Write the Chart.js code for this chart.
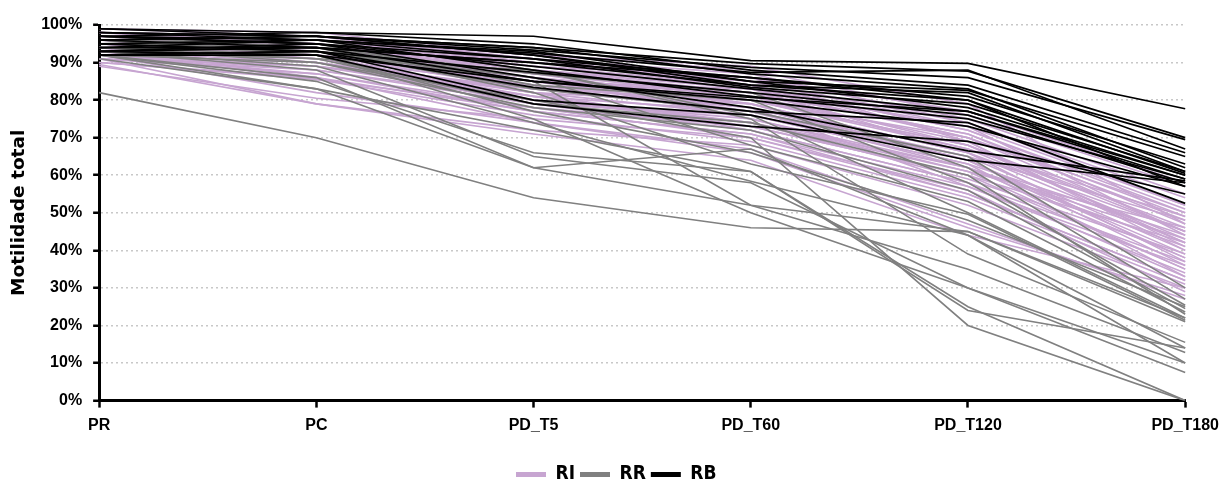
<!DOCTYPE html>
<html lang="pt">

<head>
    <meta charset="UTF-8">
    <title>Motilidade total</title>
    <script src="https://cdn.jsdelivr.net/npm/chart.js"></script>
    <style>
        body { margin: 0; background: #fff; }
        #caixa { width: 1227px; height: 482px; }
    </style>
</head>

<body>
    <div id="caixa">
        <canvas id="grafico"></canvas>
    </div>

<script>
    // categorias do eixo x
    var categorias = ['PR', 'PC', 'PD_T5', 'PD_T60', 'PD_T120', 'PD_T180'];

    // marcas do eixo y (%)
    var ticksY = [0, 10, 20, 30, 40, 50, 60, 70, 80, 90, 100];

    // RI - uma linha por amostra: PR, PC, PD_T5, PD_T60, PD_T120, PD_T180
    var linhasRI = [
        [97, 96, 90, 86, 75, 55],
        [96, 95, 89, 84, 72, 50],
        [95, 94, 88, 83, 70, 48],
        [98, 97, 91, 87, 74, 52],
        [94, 93, 86, 80, 68, 45],
        [93, 92, 85, 79, 66, 42],
        [92, 90, 83, 77, 65, 40],
        [91, 88, 80, 75, 62, 38],
        [90, 85.5, 78, 73, 60, 35],
        [89, 80.5, 75, 70, 55, 32],
        [91, 79, 72, 68, 52, 30],
        [92, 82, 74, 66, 46, 28],
        [96, 93, 87, 82, 71, 47],
        [97, 95, 90, 85, 73, 44],
        [95, 92, 84, 78, 64, 36],
        [94, 91, 82, 76, 63, 33],
        [93, 89, 81, 74, 61, 46],
        [98, 96, 92, 88, 76, 57],
        [99, 97, 91, 86, 69, 41],
        [96, 94, 86, 81, 67, 49],
        [95, 90, 79, 72, 58, 37],
        [94, 86, 77, 71, 57, 34],
        [93, 85.5, 76, 69, 54, 31],
        [97, 95, 88, 84, 72, 51],
        [98, 94, 85, 77, 62, 43],
        [92, 89, 80, 74, 59, 39],
        [91, 87, 78, 70, 56, 29],
        [96, 92, 83, 80, 70, 50],
        [95, 93, 85, 82, 68, 46],
        [97, 96, 89, 83, 66, 45],
        [94, 90, 81, 73, 60, 42],
        [93, 91, 84, 78, 65, 48],
        [92, 88, 79, 76, 63, 44],
        [98, 97, 90, 85, 74, 54],
        [96, 95, 87, 81, 69, 40],
        [95, 91, 82, 79, 64, 38],
        [94, 92, 86, 75, 61, 35],
        [99, 98, 92, 89, 79, 47],
        [97, 93, 84, 80, 67, 43],
        [93, 90, 82, 72, 58, 33],
        [90, 86, 74, 67, 47, 27],
        [96, 94, 88, 82, 71, 49],
        [95, 92, 80, 74, 62, 41],
        [98, 95, 87, 79, 66, 37],
        [92, 87, 77, 71, 55, 32],
        [94, 93, 85, 83, 73, 52],
        [97, 96, 91, 84, 70, 45],
        [91, 89, 83, 78, 57, 36],
        [96, 91, 81, 77, 64, 39],
        [93, 92, 86, 80, 68, 42],
        [89.5, 79, 71, 64, 44, 30],
        [95, 94, 89, 86, 77, 58]
    ];

    // RR
    var linhasRR = [
        [82, 70, 54, 46, 45, 22],
        [93, 88, 65, 58, 30, 10],
        [92, 86, 62, 67, 44, 14],
        [92, 83, 72, 61, 25, 0],
        [94, 90, 80, 70, 20, 0],
        [96, 93, 85, 52, 35, 12.8],
        [93, 91, 88, 75, 39, 15.5],
        [94, 92, 75, 50, 30, 7.5],
        [97, 94, 82, 63, 49.6, 21.4],
        [95, 93, 86, 68, 53, 23.6],
        [92, 90, 78, 72, 56, 24.5],
        [96, 95, 84, 80, 58, 25.4],
        [94, 91, 79, 74, 60, 23],
        [93, 89, 74, 58.4, 44, 10],
        [95, 94, 87, 82, 62, 27],
        [97, 96, 88, 76, 50, 22],
        [92, 85, 66, 61, 24, 14],
        [94, 93, 83, 77, 65, 30],
        [96, 92, 77, 66, 48, 25],
        [91, 83, 62, 52, 45, 21]
    ];

    // RB
    var linhasRB = [
        [97, 98, 97, 90.5, 89.8, 77.7],
        [99, 97, 94, 89.7, 87.7, 70],
        [98, 97, 93.3, 88.7, 86, 69.5],
        [97, 96, 92.5, 87.4, 88, 67],
        [96, 97, 92, 85, 82.6, 65],
        [97, 95, 91, 86, 81, 63],
        [95, 96, 91, 83.4, 79, 61],
        [94, 94, 90, 84, 80, 60.5],
        [98, 96, 93, 85, 78, 60],
        [93, 95, 89, 83, 77, 59],
        [92, 93, 87.4, 82, 76, 58],
        [96, 94, 85, 80.7, 77, 60],
        [93, 92, 85, 80, 73, 57],
        [95, 93, 83.4, 77, 74, 52.5],
        [92, 92, 79, 73, 69, 55],
        [97, 95, 86, 78, 66.5, 58.5],
        [94, 96, 88, 81, 75, 59],
        [99, 98, 95, 88, 84, 66],
        [92, 93, 80, 76, 64, 58],
        [93, 94, 90, 86, 80, 57],
        [96, 97, 92, 84, 82, 61],
        [98, 97, 94, 87, 83, 62]
    ];

    var nomesGrupos = ['RI', 'RR', 'RB'];
    var coresGrupos = ['#c7a5d1', '#808080', '#000000'];

    function montarLinhas(linhas, nome, cor, ordem, espessura) {
        return linhas.map(function (valores, i) {
            return {
                label: nome + ' ' + (i + 1),
                data: valores,
                borderColor: cor,
                backgroundColor: cor,
                borderWidth: espessura,
                pointRadius: 0,
                pointHoverRadius: 0,
                tension: 0,
                fill: false,
                order: ordem
            };
        });
    }

    var conjuntos = []
        .concat(montarLinhas(linhasRI, nomesGrupos[0], coresGrupos[0], 3, 1.6))
        .concat(montarLinhas(linhasRR, nomesGrupos[1], coresGrupos[1], 2, 1.6))
        .concat(montarLinhas(linhasRB, nomesGrupos[2], coresGrupos[2], 1, 1.7));

    var fonteEixo = { family: "'Liberation Sans', Arial, sans-serif", size: 16, weight: 'bold' };

    var grafico = new Chart(document.getElementById('grafico').getContext('2d'), {
        type: 'line',
        data: {
            labels: categorias,
            datasets: conjuntos
        },
        options: {
            responsive: true,
            maintainAspectRatio: false,
            animation: false,
            layout: {
                padding: { top: 25, right: 40, bottom: -12, left: 1 }
            },
            plugins: {
                tooltip: { enabled: false },
                legend: {
                    position: 'bottom',
                    onClick: function () { },
                    labels: {
                        usePointStyle: true,
                        pointStyleWidth: 30,
                        boxHeight: 20,
                        padding: 5,
                        color: '#000',
                        font: { family: "'Liberation Sans Narrow', 'DejaVu Sans Condensed', sans-serif", size: 19, weight: 'bold' },
                        generateLabels: function () {
                            // item vazio no início só para centrar a legenda no canvas
                            var itens = [{
                                text: '',
                                strokeStyle: 'rgba(0,0,0,0)',
                                fillStyle: 'rgba(0,0,0,0)',
                                lineWidth: 0,
                                pointStyle: 'line',
                                hidden: false
                            }];
                            nomesGrupos.forEach(function (nome, i) {
                                itens.push({
                                    text: nome,
                                    strokeStyle: coresGrupos[i],
                                    fillStyle: coresGrupos[i],
                                    lineWidth: 5,
                                    pointStyle: 'line',
                                    hidden: false,
                                    fontColor: '#000'
                                });
                            });
                            return itens;
                        }
                    }
                }
            },
            scales: {
                x: {
                    offset: false,
                    grid: {
                        display: true,
                        drawOnChartArea: false,
                        drawTicks: true,
                        tickLength: 7,
                        tickColor: '#000',
                        tickWidth: 2.5
                    },
                    border: { display: true, color: '#000', width: 3 },
                    ticks: {
                        color: '#000',
                        font: fonteEixo,
                        padding: 8,
                        maxRotation: 0,
                        autoSkip: false
                    },
                    // espaço vazio entre os rótulos e a legenda
                    title: {
                        display: true,
                        text: ' ',
                        font: { size: 1 },
                        padding: { top: 16, bottom: 0 }
                    }
                },
                y: {
                    min: 0,
                    max: 100,
                    afterBuildTicks: function (escala) {
                        escala.ticks = ticksY.map(function (v) { return { value: v }; });
                    },
                    grid: {
                        color: '#c8c8c8',
                        lineWidth: 1.5,
                        drawTicks: true,
                        tickLength: 6,
                        tickColor: '#000',
                        tickWidth: 2.5,
                        tickBorderDash: []
                    },
                    border: { display: true, color: '#000', width: 3, dash: [2, 3] },
                    ticks: {
                        color: '#000',
                        font: fonteEixo,
                        padding: 11,
                        callback: function (v) { return v + '%'; }
                    },
                    title: {
                        display: true,
                        text: 'Motilidade total',
                        color: '#000',
                        font: { family: "'DejaVu Sans', sans-serif", size: 18.5, weight: 'bold' },
                        padding: { top: 7, bottom: 0 }
                    }
                }
            }
        }
    });
</script>
</body>

</html>
